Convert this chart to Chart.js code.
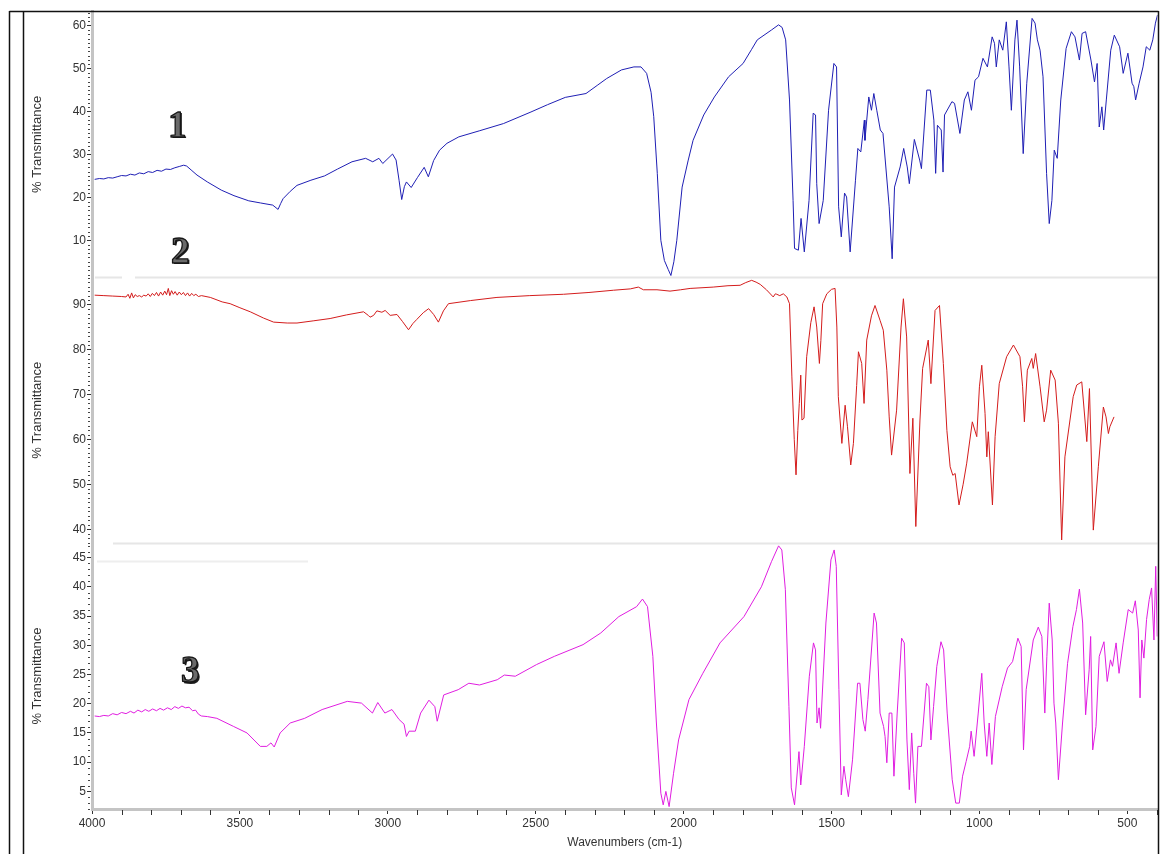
<!DOCTYPE html>
<html>
<head>
<meta charset="utf-8">
<script src="https://cdn.jsdelivr.net/npm/chart.js@4.4.0/dist/chart.umd.min.js"></script>
<style>
  html, body { margin: 0; padding: 0; background: #fff; }
  canvas { display: block; }
</style>
</head>
<body>
<canvas id="ir" width="1161" height="854"></canvas>
<script>
// IR spectra: [wavenumber (cm-1), % transmittance]
const spectrum1 = [
  [3991,24.2],[3975,24.4],[3960,24.3],[3945,24.6],[3930,24.5],[3915,24.8],[3900,25.1],[3885,25.0],[3870,25.4],[3855,25.2],
  [3840,25.7],[3825,25.5],[3810,26.0],[3795,25.8],[3780,26.3],[3765,26.1],[3750,26.6],[3735,26.5],[3720,26.9],[3705,27.2],
  [3690,27.5],[3680,27.3],[3665,26.4],[3645,25.2],[3610,23.6],[3563,21.7],[3520,20.4],[3470,19.2],[3430,18.7],[3389,18.2],
  [3371,17.2],[3362,18.6],[3354,19.7],[3330,21.4],[3307,22.8],[3260,24.0],[3214,25.0],[3170,26.6],[3121,28.3],[3075,29.1],
  [3051,28.3],[3030,29.1],[3017,27.9],[2984,30.1],[2972,28.7],[2962,24.0],[2953,19.5],[2944,22.5],[2937,23.6],[2921,22.3],
  [2900,24.6],[2877,27.0],[2863,24.8],[2845,28.6],[2825,31.0],[2800,32.6],[2760,34.1],[2691,35.5],[2609,37.2],[2516,39.9],
  [2460,41.6],[2400,43.3],[2330,44.2],[2290,46.2],[2260,47.7],[2210,49.7],[2168,50.4],[2144,50.4],[2125,48.9],[2110,44.5],
  [2101,38.8],[2089,25.6],[2077,10.0],[2065,5.3],[2052,3.2],[2043,1.8],[2033,5.0],[2023,10.0],[2005,22.4],[1985,28.5],
  [1968,33.3],[1932,39.2],[1896,43.4],[1848,48.1],[1799,51.2],[1770,54.5],[1751,56.7],[1703,59.0],[1679,60.2],[1667,59.6],
  [1655,56.7],[1642,42.7],[1630,19.3],[1625,8.1],[1612,7.7],[1603,15.1],[1592,7.3],[1576,19.3],[1562,39.6],[1554,39.2],
  [1550,23.2],[1542,13.9],[1528,19.3],[1510,40.3],[1492,51.2],[1483,50.4],[1476,17.8],[1467,10.8],[1456,21.0],[1449,20.1],
  [1437,7.3],[1419,24.0],[1411,31.4],[1401,30.6],[1389,38.0],[1387,33.3],[1374,43.4],[1365,40.3],[1357,44.2],[1347,40.3],
  [1335,35.7],[1326,34.9],[1305,17.8],[1295,5.7],[1287,22.4],[1268,27.1],[1256,31.4],[1244,27.1],[1237,23.2],[1220,33.5],
  [1202,28.7],[1196,26.7],[1178,45.0],[1166,45.0],[1154,38.0],[1148,25.6],[1142,36.8],[1129,35.7],[1123,25.9],[1118,39.2],
  [1093,42.3],[1084,41.9],[1066,34.9],[1051,42.7],[1039,44.6],[1027,40.3],[1015,47.3],[1003,48.1],[988,52.4],[973,50.4],
  [957,57.4],[949,55.9],[943,50.4],[933,56.7],[921,54.3],[909,60.9],[900,50.4],[892,40.3],[880,56.7],[873,61.3],
  [864,50.4],[852,30.2],[840,46.6],[822,61.7],[812,60.6],[804,56.7],[795,54.3],[785,48.1],[773,25.6],[764,13.9],
  [755,19.3],[747,31.0],[737,29.1],[725,42.7],[707,54.7],[689,58.6],[677,57.4],[662,52.0],[653,58.2],[641,58.6],
  [623,52.0],[611,46.9],[602,51.2],[595,36.4],[586,41.1],[580,35.7],[571,42.7],[556,54.3],[544,57.8],[526,55.1],
  [514,48.9],[498,53.6],[484,46.6],[478,45.8],[472,42.7],[460,46.6],[447,50.4],[436,55.1],[424,54.3],[414,56.7],
  [405,60.6],[398,62.5]
];

const spectrum2 = [
  [3991,92.1],[3960,92.0],[3930,91.9],[3900,91.8],[3885,91.7],[3878,92.3],[3872,91.4],[3866,92.6],[3860,91.5],[3854,92.2],
  [3847,91.8],[3840,92.0],[3832,91.7],[3825,92.1],[3817,91.9],[3810,92.4],[3803,91.8],[3796,92.5],[3789,92.0],[3782,92.7],
  [3775,91.9],[3768,92.8],[3761,92.1],[3754,93.0],[3748,92.2],[3742,93.6],[3737,92.0],[3731,93.1],[3725,92.3],[3719,92.9],
  [3712,92.1],[3705,92.8],[3698,92.2],[3691,92.7],[3684,92.0],[3677,92.6],[3670,91.9],[3663,92.5],[3656,92.0],[3649,92.3],
  [3640,91.8],[3630,92.0],[3600,91.6],[3560,90.6],[3533,90.2],[3500,89.3],[3465,88.4],[3420,87.0],[3386,86.1],[3340,85.9],
  [3307,85.9],[3250,86.4],[3195,86.9],[3140,87.7],[3082,88.4],[3066,87.6],[3060,87.2],[3048,87.6],[3037,88.6],[3020,88.3],
  [3009,88.7],[2992,87.6],[2969,87.8],[2950,86.2],[2930,84.4],[2915,85.8],[2902,86.7],[2880,88.2],[2862,89.1],[2845,87.8],
  [2829,86.1],[2812,88.6],[2795,90.2],[2720,90.9],[2631,91.6],[2520,92.0],[2406,92.3],[2320,92.7],[2237,93.2],[2180,93.5],
  [2153,93.9],[2136,93.3],[2090,93.3],[2046,93.0],[2010,93.3],[1978,93.6],[1900,93.9],[1850,94.2],[1809,94.3],[1790,94.9],
  [1770,95.4],[1755,95.0],[1741,94.5],[1720,93.3],[1697,91.7],[1690,92.4],[1685,92.3],[1675,92.0],[1663,92.4],[1651,91.7],
  [1642,90.2],[1634,73.9],[1626,60.0],[1620,52.1],[1614,62.0],[1609,68.0],[1604,74.3],[1600,64.3],[1593,64.7],[1584,78.4],
  [1570,86.0],[1559,89.5],[1550,85.0],[1541,76.9],[1536,82.0],[1530,90.2],[1516,92.4],[1500,93.4],[1488,93.6],[1482,85.0],
  [1477,69.5],[1465,59.1],[1454,67.6],[1446,62.8],[1435,54.3],[1426,59.1],[1415,72.0],[1409,79.5],[1398,76.9],[1390,68.0],
  [1381,82.1],[1365,87.5],[1353,89.8],[1336,86.5],[1325,84.3],[1313,75.4],[1305,65.0],[1297,56.5],[1280,66.5],[1265,85.0],
  [1257,91.3],[1246,82.8],[1235,52.4],[1225,64.7],[1215,40.6],[1201,64.3],[1192,75.8],[1173,82.1],[1164,72.4],[1150,88.7],
  [1135,89.8],[1122,76.9],[1110,62.0],[1099,53.9],[1090,52.0],[1082,52.4],[1069,45.4],[1055,50.0],[1043,54.7],[1024,63.9],
  [1009,60.6],[1000,71.7],[992,76.5],[981,65.8],[975,56.1],[970,61.7],[956,45.4],[947,60.6],[933,72.4],[908,78.4],
  [885,81.0],[863,78.4],[854,71.7],[848,63.9],[838,75.4],[823,78.0],[818,75.8],[810,79.1],[795,71.7],[781,63.9],
  [773,66.5],[759,75.4],[744,73.2],[733,63.6],[722,37.6],[711,56.1],[683,69.5],[671,72.1],[654,72.8],[637,59.5],
  [628,71.3],[615,39.8],[598,53.9],[581,67.2],[572,65.0],[564,61.3],[559,62.8],[545,65.0]
];

const spectrum3 = [
  [3991,17.9],[3975,17.8],[3960,18.0],[3945,17.9],[3930,18.3],[3915,18.1],[3900,18.5],[3885,18.3],[3870,18.7],[3858,18.4],
  [3845,18.9],[3832,18.6],[3820,19.0],[3808,18.7],[3795,19.1],[3782,18.8],[3770,19.2],[3758,18.9],[3745,19.3],[3732,19.0],
  [3720,19.5],[3708,19.2],[3696,19.6],[3684,19.3],[3672,19.4],[3660,18.8],[3650,18.9],[3640,18.2],[3630,17.9],[3610,17.8],
  [3578,17.5],[3521,16.1],[3476,15.0],[3431,12.7],[3409,12.7],[3395,13.3],[3384,12.6],[3364,15.0],[3330,16.7],[3281,17.5],
  [3222,19.0],[3137,20.4],[3089,20.1],[3052,18.4],[3034,20.2],[3010,18.4],[2986,19.0],[2962,17.3],[2945,16.5],[2937,14.4],
  [2928,15.3],[2907,15.3],[2889,18.4],[2861,20.6],[2841,19.5],[2833,17.0],[2811,21.5],[2762,22.4],[2726,23.5],[2690,23.2],
  [2630,24.1],[2606,24.9],[2569,24.7],[2497,26.7],[2437,28.1],[2340,30.1],[2280,32.1],[2219,34.9],[2159,36.6],[2139,37.9],
  [2122,36.6],[2104,28.1],[2092,16.7],[2077,4.7],[2069,2.7],[2060,5.0],[2049,2.4],[2034,8.1],[2017,13.8],[1982,20.7],
  [1935,25.2],[1877,30.4],[1796,34.9],[1737,40.0],[1703,44.3],[1679,47.0],[1668,46.3],[1656,39.5],[1644,19.5],[1636,5.6],
  [1625,2.7],[1610,11.8],[1604,6.1],[1592,12.7],[1575,24.7],[1561,30.4],[1554,29.2],[1549,16.7],[1542,19.3],[1537,15.8],
  [1519,33.8],[1502,44.6],[1491,46.3],[1484,43.5],[1475,22.4],[1467,4.4],[1458,9.3],[1452,7.0],[1443,4.1],[1429,10.4],
  [1412,23.5],[1404,23.5],[1394,17.3],[1386,15.3],[1377,20.7],[1356,35.5],[1348,33.8],[1336,18.4],[1324,16.1],[1319,14.4],
  [1313,9.9],[1305,18.4],[1296,18.4],[1289,7.6],[1278,18.4],[1263,31.2],[1254,30.4],[1245,13.8],[1237,5.3],[1229,15.0],
  [1222,8.1],[1216,3.0],[1208,12.7],[1196,12.7],[1179,23.5],[1171,22.9],[1164,13.8],[1155,19.5],[1144,26.4],[1130,30.6],
  [1121,29.2],[1109,18.4],[1092,7.0],[1080,3.0],[1068,3.0],[1057,7.6],[1045,10.1],[1033,12.7],[1028,15.3],[1018,11.0],
  [1004,18.4],[992,25.2],[984,16.7],[975,11.0],[967,16.7],[958,9.6],[946,17.8],[923,22.9],[905,26.1],[888,27.2],
  [870,31.2],[859,29.8],[851,12.1],[842,22.4],[818,30.9],[801,33.1],[789,31.5],[779,18.4],[772,28.1],[764,37.2],
  [754,30.9],[748,20.1],[742,16.7],[733,7.0],[719,16.7],[702,26.9],[684,33.2],[672,36.1],[662,39.6],[651,33.8],
  [641,18.1],[629,25.8],[624,31.5],[617,12.1],[606,16.1],[595,28.1],[579,30.6],[568,23.8],[557,27.5],[550,26.4],
  [538,30.4],[528,25.2],[514,30.4],[497,36.1],[482,35.5],[473,37.6],[463,32.6],[457,21.0],[451,30.9],[444,27.8],
  [435,34.4],[426,37.8],[418,39.8],[410,30.9],[404,43.5],[399,31.5]
];

const wavenumberTicks = [4000, 3500, 3000, 2500, 2000, 1500, 1000, 500];
const sampleTags = ['1', '2', '3'];
const xTitle = 'Wavenumbers (cm-1)';
const yTitle = '% Transmittance';

const AXIS_FONT = { family: '"Liberation Sans", Arial, sans-serif', size: 12 };
const TEXT_COLOR = '#333';

const toPoints = arr => arr.map(([x, y]) => ({ x, y }));

function panelAxis(min, max, step, order) {
  return {
    type: 'linear',
    position: 'left',
    stack: 'panels',
    stackWeight: 1,
    weight: order,
    offset: false,
    min, max,
    ticks: {
      stepSize: step, includeBounds: false, autoSkip: false, padding: 1,
      color: TEXT_COLOR, font: AXIS_FONT
    },
    grid: { drawOnChartArea: false, drawTicks: true, tickLength: 5, tickColor: '#333', tickWidth: 1 },
    border: { display: true, color: '#c4c4c4', width: 3 },
    title: {
      display: true, text: yTitle, color: TEXT_COLOR,
      font: { family: AXIS_FONT.family, size: 13 },
      padding: { top: 30, bottom: 0 }
    },
    afterFit(scale) { scale.width = 92; }
  };
}

// frame, panel separators, minor ticks and sample tags
const decor = {
  id: 'decor',
  beforeDraw(chart) {
    const ctx = chart.ctx;
    ctx.save();
    ctx.fillStyle = '#fff';
    ctx.fillRect(0, 0, chart.width, chart.height);
    ctx.restore();
  },
  afterDraw(chart) {
    const ctx = chart.ctx;
    const { x, y1, y2, y3 } = chart.scales;
    const area = chart.chartArea;
    ctx.save();

    // faint separators between the stacked panels
    ctx.strokeStyle = '#e6e6e6';
    ctx.lineWidth = 2;
    const s1 = Math.round(y1.bottom) + 0.5;
    const s2 = Math.round(y2.bottom) + 0.5;
    ctx.beginPath();
    ctx.moveTo(area.left + 3, s1); ctx.lineTo(area.left + 30, s1);
    ctx.moveTo(area.left + 43, s1); ctx.lineTo(area.right, s1);
    ctx.moveTo(area.left + 21, s2); ctx.lineTo(area.right, s2);
    ctx.stroke();
    ctx.strokeStyle = '#eeeeee';
    ctx.beginPath();
    ctx.moveTo(area.left + 5, s2 + 18); ctx.lineTo(area.left + 216, s2 + 18);
    ctx.stroke();

    // minor ticks on the transmittance axes (every 1 %)
    ctx.strokeStyle = '#444';
    ctx.lineWidth = 1;
    ctx.beginPath();
    [[y1, 10], [y2, 10], [y3, 5]].forEach(([sc, major]) => {
      for (let v = Math.ceil(sc.min); v <= Math.floor(sc.max); v++) {
        if (v % major === 0) continue;
        const py = Math.round(sc.getPixelForValue(v)) + 0.5;
        ctx.moveTo(area.left - 4, py); ctx.lineTo(area.left - 2, py);
      }
    });
    ctx.stroke();

    // minor ticks on the wavenumber axis (every 100 cm-1)
    ctx.strokeStyle = '#333';
    ctx.beginPath();
    for (let v = 400; v <= 4000; v += 100) {
      if (v % 500 === 0) continue;
      const px = Math.round(x.getPixelForValue(v)) + 0.5;
      ctx.moveTo(px, area.bottom + 1); ctx.lineTo(px, area.bottom + 6);
    }
    ctx.stroke();

    // outer frame
    ctx.strokeStyle = '#111';
    ctx.lineWidth = 1.5;
    ctx.beginPath();
    ctx.moveTo(9.5, 11.5); ctx.lineTo(area.right + 1, 11.5);
    ctx.moveTo(9.5, 11); ctx.lineTo(9.5, chart.height);
    ctx.moveTo(23.5, 11); ctx.lineTo(23.5, chart.height);
    ctx.moveTo(area.right + 1, 11); ctx.lineTo(area.right + 1, chart.height);
    ctx.stroke();

    // sample tags
    const tagAt = [[3712, y1, 36.4], [3702, y1, 7.0], [3668, y3, 25.3]];
    ctx.font = 'bold 37px "Liberation Serif", "DejaVu Serif", serif';
    ctx.textAlign = 'center';
    ctx.textBaseline = 'middle';
    ctx.lineJoin = 'round';
    sampleTags.forEach((t, i) => {
      const [wv, sc, tv] = tagAt[i];
      const px = x.getPixelForValue(wv);
      const py = sc.getPixelForValue(tv);
      ctx.fillStyle = '#1b1b1b';
      ctx.fillText(t, px + 1.5, py + 1.5);
      ctx.fillStyle = '#6a6a6a';
      ctx.fillText(t, px, py);
      ctx.strokeStyle = '#161616';
      ctx.lineWidth = 1.3;
      ctx.strokeText(t, px, py);
    });
    ctx.restore();
  }
};

const lineStyle = { borderWidth: 1, pointRadius: 0, tension: 0, fill: false };

new Chart(document.getElementById('ir'), {
  type: 'line',
  data: {
    datasets: [
      { ...lineStyle, data: toPoints(spectrum1), borderColor: '#1f1fb4', yAxisID: 'y1' },
      { ...lineStyle, data: toPoints(spectrum2), borderColor: '#d41c1c', yAxisID: 'y2' },
      { ...lineStyle, data: toPoints(spectrum3), borderColor: '#e01ee0', yAxisID: 'y3' }
    ]
  },
  options: {
    responsive: false,
    animation: false,
    devicePixelRatio: 1,
    layout: { padding: { top: 11.5, right: 3.5, bottom: 0, left: 0 } },
    plugins: { legend: { display: false }, tooltip: { enabled: false } },
    scales: {
      x: {
        type: 'linear', position: 'bottom', reverse: true, min: 398, max: 4000,
        afterBuildTicks(scale) { scale.ticks = wavenumberTicks.map(v => ({ value: v })); },
        ticks: {
          autoSkip: false, maxRotation: 0, padding: 2, color: TEXT_COLOR, font: AXIS_FONT,
          callback: v => String(v)
        },
        grid: { drawOnChartArea: false, drawTicks: true, tickLength: 5, tickColor: '#333', tickWidth: 1 },
        border: { display: true, color: '#c4c4c4', width: 3 },
        title: {
          display: true, text: xTitle, color: TEXT_COLOR, font: AXIS_FONT,
          padding: { top: 0, bottom: 4 }
        },
        afterFit(scale) { scale.height = 45; }
      },
      y3: panelAxis(1.99, 47.46, 5, 1),
      y2: panelAxis(36.89, 96.07, 10, 2),
      y1: panelAxis(1.375, 63.31, 10, 3)
    }
  },
  plugins: [decor]
});
</script>
</body>
</html>
